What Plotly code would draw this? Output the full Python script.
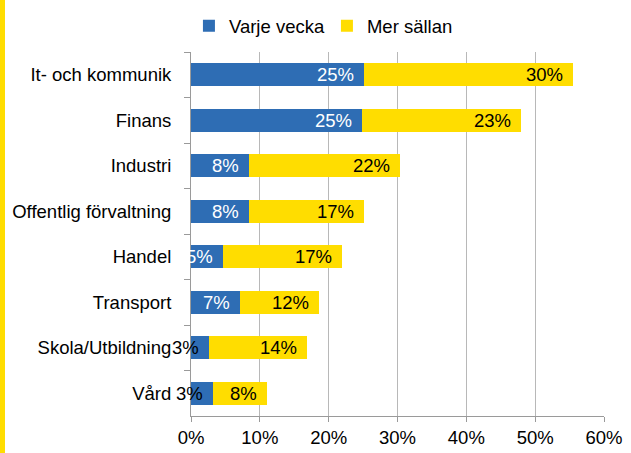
import plotly.graph_objects as go

categories = ["It- och kommunik", "Finans", "Industri", "Offentlig förvaltning",
              "Handel", "Transport", "Skola/Utbildning", "Vård"]
varje_vecka = [25.2, 24.9, 8.4, 8.4, 4.7, 7.1, 2.6, 3.2]
mer_sallan = [30.3, 23.1, 21.9, 16.7, 17.2, 11.5, 14.2, 7.9]
varje_labels = ["25%", "25%", "8%", "8%", "5%", "7%", "3%", "3%"]
mer_labels = ["30%", "23%", "22%", "17%", "17%", "12%", "14%", "8%"]
varje_label_colors = ["white", "white", "white", "white", "white", "white", "black", "black"]
x_ticks = [0, 10, 20, 30, 40, 50, 60]
x_ticklabels = ["0%", "10%", "20%", "30%", "40%", "50%", "60%"]

BLUE = "#2E6DB4"
YELLOW = "#FFDD00"
FONT = "Liberation Sans, Arial, sans-serif"
FS = 18.5

fig = go.Figure()
fig.add_trace(go.Bar(y=categories, x=varje_vecka, orientation="h", name="Varje vecka",
                     marker=dict(color=BLUE, line=dict(width=0))))
fig.add_trace(go.Bar(y=categories, x=mer_sallan, orientation="h", name="Mer sällan",
                     marker=dict(color=YELLOW, line=dict(width=0))))

annotations = []
for c, v, m, lv, lm, col in zip(categories, varje_vecka, mer_sallan, varje_labels,
                                mer_labels, varje_label_colors):
    annotations.append(dict(x=v, y=c, xref="x", yref="y", text=lv, showarrow=False,
                            xanchor="right", xshift=-8,
                            font=dict(family=FONT, size=FS, color=col)))
    annotations.append(dict(x=v + m, y=c, xref="x", yref="y", text=lm, showarrow=False,
                            xanchor="right", xshift=-8,
                            font=dict(family=FONT, size=FS, color="black")))

fig.update_layout(
    width=631, height=453,
    barmode="stack", bargap=0.5,
    margin=dict(l=191, r=27, t=52, b=37, autoexpand=False),
    paper_bgcolor="white", plot_bgcolor="white",
    font=dict(family=FONT, size=FS, color="black"),
    showlegend=True,
    legend=dict(orientation="h", x=-0.005, y=1.071, xanchor="left", yanchor="middle",
                font=dict(family=FONT, size=FS), bgcolor="rgba(0,0,0,0)",
                traceorder="normal", entrywidth=93),
    annotations=annotations,
    shapes=[dict(type="rect", xref="paper", yref="paper",
                 x0=-191 / 413, x1=-186 / 413, y0=-37 / 364, y1=(364 + 52) / 364,
                 fillcolor=YELLOW, line=dict(width=0), layer="above")],
)
fig.update_xaxes(range=[0, 60], tickvals=x_ticks, ticktext=x_ticklabels, automargin=False,
                 showgrid=True, gridcolor="#B8B8B8", gridwidth=1,
                 showline=True, linecolor="#9A9A9A", linewidth=1,
                 ticks="outside", ticklen=5, tickcolor="#9A9A9A",
                 zeroline=False, tickfont=dict(family=FONT, size=FS, color="black"))
fig.update_yaxes(categoryorder="array", categoryarray=categories, autorange="reversed",
                 automargin=False,
                 showgrid=False, showline=True, linecolor="#9A9A9A", linewidth=1,
                 ticks="outside", ticklen=6, tickcolor="#9A9A9A", tickson="boundaries",
                 ticklabelstandoff=15,
                 tickfont=dict(family=FONT, size=FS, color="black"))

fig.write_html("out.html", config={"displayModeBar": False},
               post_script="document.body.style.margin='0';document.body.style.overflow='hidden';")
